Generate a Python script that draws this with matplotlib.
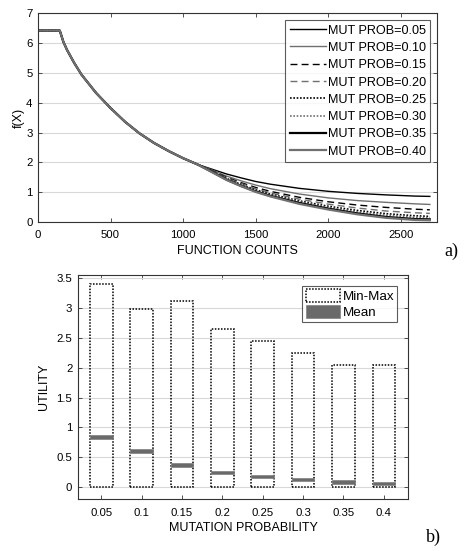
import matplotlib
matplotlib.use("Agg")
import matplotlib.pyplot as plt

plt.rcParams['font.family'] = ['Liberation Sans', 'DejaVu Sans']
plt.rcParams['font.size'] = 8.2

# --- (a) convergence curves ---
counts = [0, 150, 175, 200, 250, 300, 400, 500, 600, 700, 800, 900, 1000, 1100,
          1200, 1300, 1400, 1500, 1600, 1800, 2000, 2200, 2400, 2600, 2700]
head = [6.42, 6.42, 6.04, 5.77, 5.33, 4.94, 4.33, 3.82, 3.36, 2.97, 2.65, 2.38, 2.14, 1.93]
tail_005 = [1.77, 1.61, 1.48, 1.36, 1.27, 1.13, 1.03, 0.96, 0.91, 0.87, 0.86]
tail_010 = [1.74, 1.54, 1.38, 1.24, 1.12, 0.94, 0.81, 0.72, 0.66, 0.61, 0.59]
tail_015 = [1.72, 1.50, 1.32, 1.16, 1.03, 0.83, 0.68, 0.57, 0.49, 0.43, 0.41]
tail_020 = [1.71, 1.48, 1.29, 1.12, 0.98, 0.77, 0.60, 0.47, 0.37, 0.31, 0.29]
tail_025 = [1.70, 1.46, 1.26, 1.08, 0.94, 0.71, 0.53, 0.39, 0.28, 0.21, 0.19]
tail_030 = [1.69, 1.44, 1.24, 1.06, 0.91, 0.68, 0.49, 0.34, 0.23, 0.16, 0.145]
tail_035 = [1.68, 1.42, 1.21, 1.03, 0.88, 0.64, 0.45, 0.29, 0.17, 0.10, 0.09]
tail_040 = [1.67, 1.41, 1.20, 1.01, 0.86, 0.61, 0.42, 0.26, 0.14, 0.07, 0.06]
curve_labels = ['MUT PROB=0.05', 'MUT PROB=0.10', 'MUT PROB=0.15', 'MUT PROB=0.20',
                'MUT PROB=0.25', 'MUT PROB=0.30', 'MUT PROB=0.35', 'MUT PROB=0.40']
tails = [tail_005, tail_010, tail_015, tail_020, tail_025, tail_030, tail_035, tail_040]

# --- (b) utility summary ---
mut_prob = [0.05, 0.10, 0.15, 0.20, 0.25, 0.30, 0.35, 0.40]
util_max = [3.40, 2.98, 3.12, 2.65, 2.45, 2.25, 2.04, 2.04]
util_mean = [0.84, 0.61, 0.37, 0.25, 0.18, 0.13, 0.09, 0.06]

styles = [('black', '-', 1.0), ('#707070', '-', 1.0),
          ('black', (0, (5, 3)), 1.0), ('#707070', (0, (5, 3)), 1.0),
          ('black', (0, (1, 1)), 1.2), ('#707070', (0, (1, 1)), 1.2),
          ('black', '-', 1.6), ('#707070', '-', 1.6)]

fig = plt.figure(figsize=(4.69, 5.51), dpi=100)

ax1 = fig.add_axes([0.081, 0.597, 0.851, 0.379])
for tail, lab, (c, ls, lw) in zip(tails, curve_labels, styles):
    ax1.plot(counts, head + tail, color=c, linestyle=ls, linewidth=lw, label=lab)
ax1.set_xlim(0, 2750)
ax1.set_ylim(0, 7)
ax1.set_xticks([0, 500, 1000, 1500, 2000, 2500])
ax1.set_yticks(range(8))
ax1.yaxis.grid(True, color='#d8d8d8', linewidth=0.8)
ax1.set_axisbelow(True)
ax1.set_xlabel('FUNCTION COUNTS', fontsize=9, labelpad=3)
ax1.set_ylabel('f(X)', fontsize=9, labelpad=1)
leg1 = ax1.legend(loc='upper right', fontsize=9.1, frameon=True, fancybox=False,
                  edgecolor='#333333', handlelength=2.9, handletextpad=0.1,
                  labelspacing=0.42, borderpad=0.35, borderaxespad=0.55)
leg1.get_frame().set_linewidth(0.8)

ax2 = fig.add_axes([0.166, 0.094, 0.704, 0.407])
w = 0.028
ax2.bar(mut_prob, util_max, width=w, bottom=0, fill=False, edgecolor='black',
        linestyle=(0, (1, 1)), linewidth=1.1, label='Min-Max')
ax2.bar(mut_prob, [0.06] * len(util_mean), width=w,
        bottom=[m - 0.03 for m in util_mean], color='#6a6a6a',
        edgecolor='#808080', linewidth=0.5, label='Mean')
ax2.set_xlim(0.021, 0.43)
ax2.set_ylim(-0.2, 3.55)
ax2.set_xticks(mut_prob)
ax2.set_xticklabels(['0.05', '0.1', '0.15', '0.2', '0.25', '0.3', '0.35', '0.4'])
ax2.set_yticks([0, 0.5, 1, 1.5, 2, 2.5, 3, 3.5])
ax2.set_yticklabels(['0', '0.5', '1', '1.5', '2', '2.5', '3', '3.5'])
ax2.yaxis.grid(True, color='#d8d8d8', linewidth=0.8)
ax2.set_axisbelow(True)
ax2.set_xlabel('MUTATION PROBABILITY', fontsize=9, labelpad=3)
ax2.set_ylabel('UTILITY', fontsize=9, labelpad=5)
leg2 = ax2.legend(loc='upper right', fontsize=9.6, frameon=True, fancybox=False,
                  edgecolor='#333333', handlelength=2.6, handleheight=1.1,
                  handletextpad=0.15, labelspacing=0.15, borderpad=0.25,
                  borderaxespad=0.8)
leg2.get_frame().set_linewidth(0.8)

for ax in (ax1, ax2):
    ax.tick_params(direction='in', top=True, right=True, length=3,
                   width=0.6, color='#333333', labelsize=8.2)
    ax.tick_params(axis='x', pad=6)
    ax.tick_params(axis='y', pad=4)
    for sp in ax.spines.values():
        sp.set_color('#333333')
        sp.set_linewidth(0.8)

fig.text(0.962, 0.543, 'a)', family=['Liberation Serif', 'DejaVu Serif'],
         fontsize=13, ha='center', va='center')
fig.text(0.925, 0.024, 'b)', family=['Liberation Serif', 'DejaVu Serif'],
         fontsize=13, ha='center', va='center')

fig.savefig('out.png', dpi=100, facecolor='white')
